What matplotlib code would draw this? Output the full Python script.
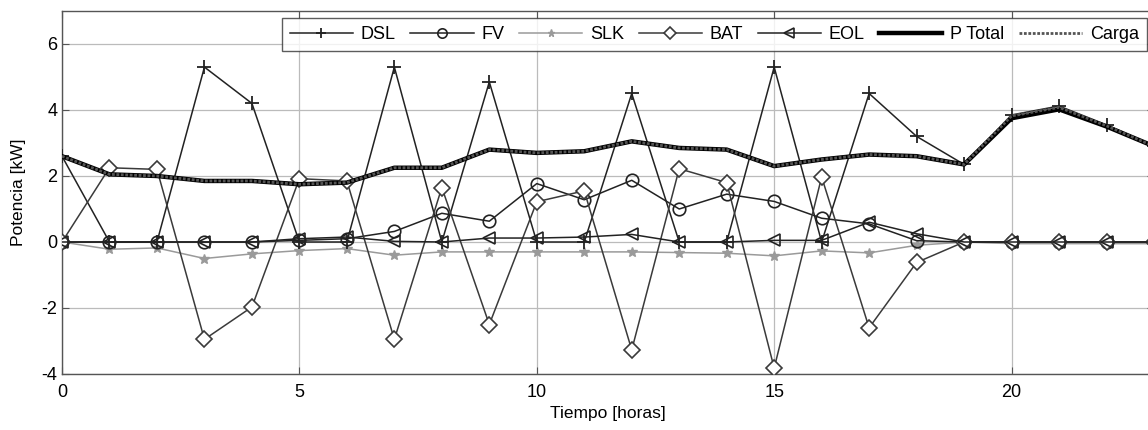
import matplotlib
matplotlib.use("Agg")
import matplotlib.pyplot as plt
import numpy as np

plt.rcParams['font.family'] = ['Liberation Sans', 'DejaVu Sans']
plt.rcParams['axes.unicode_minus'] = False

hours = list(range(24))
dsl = [2.6, 0, 0, 5.3, 4.2, 0, 0, 5.3, 0, 4.85, 0, 0, 4.5, 0, 0, 5.3, 0, 4.5, 3.2, 2.35, 3.85, 4.12, 3.55, 2.9]
fv = [0, 0, 0, 0, 0, 0.05, 0.1, 0.32, 0.87, 0.63, 1.77, 1.28, 1.87, 1.0, 1.45, 1.23, 0.72, 0.55, 0.04, 0, 0, 0, 0, 0]
slk = [0, -0.22, -0.18, -0.5, -0.36, -0.26, -0.2, -0.4, -0.3, -0.3, -0.3, -0.3, -0.3, -0.32, -0.34, -0.42, -0.27, -0.33, -0.1, 0, -0.05, -0.05, -0.05, -0.05]
bat = [0, 2.25, 2.2, -2.95, -1.97, 1.92, 1.85, -2.95, 1.65, -2.5, 1.22, 1.55, -3.27, 2.22, 1.8, -3.82, 1.97, -2.6, -0.62, 0, 0, 0, 0, 0]
eol = [0, 0, 0, 0, 0, 0.1, 0.15, 0.02, 0, 0.12, 0.12, 0.15, 0.23, 0, 0, 0.05, 0.05, 0.6, 0.25, 0, 0, 0, 0, 0]
ptotal = [2.6, 2.05, 2.0, 1.85, 1.85, 1.75, 1.8, 2.25, 2.25, 2.8, 2.7, 2.75, 3.05, 2.85, 2.8, 2.3, 2.5, 2.65, 2.6, 2.35, 3.75, 4.02, 3.5, 2.9]
carga = [2.6, 2.05, 2.0, 1.85, 1.85, 1.75, 1.8, 2.25, 2.25, 2.8, 2.7, 2.75, 3.05, 2.85, 2.8, 2.3, 2.5, 2.65, 2.6, 2.35, 3.82, 4.08, 3.52, 2.9]

fig = plt.figure(figsize=(11.48, 4.30), dpi=100)
ax = fig.add_axes([62/1148, 1-374/430, (1154-62)/1148, (374-11)/430])

lw = 1.1
ax.plot(hours, dsl, color='#222222', lw=lw, marker='+', ms=10, mew=1.3, label='DSL', zorder=4)
ax.plot(hours, fv, color='#222222', lw=lw, marker='o', ms=9, mfc='none', mew=1.2, label='FV', zorder=4)
ax.plot(hours, slk, color='#9a9a9a', lw=lw, marker='*', ms=7, mew=1, label='SLK', zorder=3)
ax.plot(hours, bat, color='#3a3a3a', lw=lw, marker='D', ms=8, mfc='white', mew=1.2, label='BAT', zorder=4)
ax.plot(hours, eol, color='#222222', lw=lw, marker='<', ms=9, mfc='none', mew=1.2, label='EOL', zorder=4)
ax.plot(hours, ptotal, color='black', lw=3.2, label='P Total', zorder=5)
ax.plot(hours, carga, color='#555555', lw=2.0, ls=(0, (1, 0.6)), label='Carga', zorder=6)

ax.set_xlim(0, 23)
ax.set_ylim(-4, 7)
ax.set_xticks([0, 5, 10, 15, 20])
ax.set_yticks([-4, -2, 0, 2, 4, 6])
ax.grid(True, color='#bbbbbb', lw=0.9)
ax.set_axisbelow(True)
ax.tick_params(direction='in', labelsize=13, length=5, top=True, right=True, color='#555555')
ax.tick_params(axis='x', pad=7)
for s in ax.spines.values():
    s.set_color('#555555')
    s.set_linewidth(1.0)

ax.set_xlabel('Tiempo [horas]', fontsize=12.5, labelpad=4)
ax.set_ylabel('Potencia [kW]', fontsize=12.5, labelpad=11)

leg = ax.legend(loc='upper right', ncol=7, fontsize=13, frameon=True, fancybox=False,
                edgecolor='#333333', handlelength=3.5, handletextpad=0.42, columnspacing=0.82,
                borderaxespad=0.0, borderpad=0.45, markerscale=0.75,
                bbox_to_anchor=((1147 - 62) / (1154 - 62), 1 - 7 / 363))
leg.get_frame().set_linewidth(1.0)

fig.savefig('out.png', dpi=100)
